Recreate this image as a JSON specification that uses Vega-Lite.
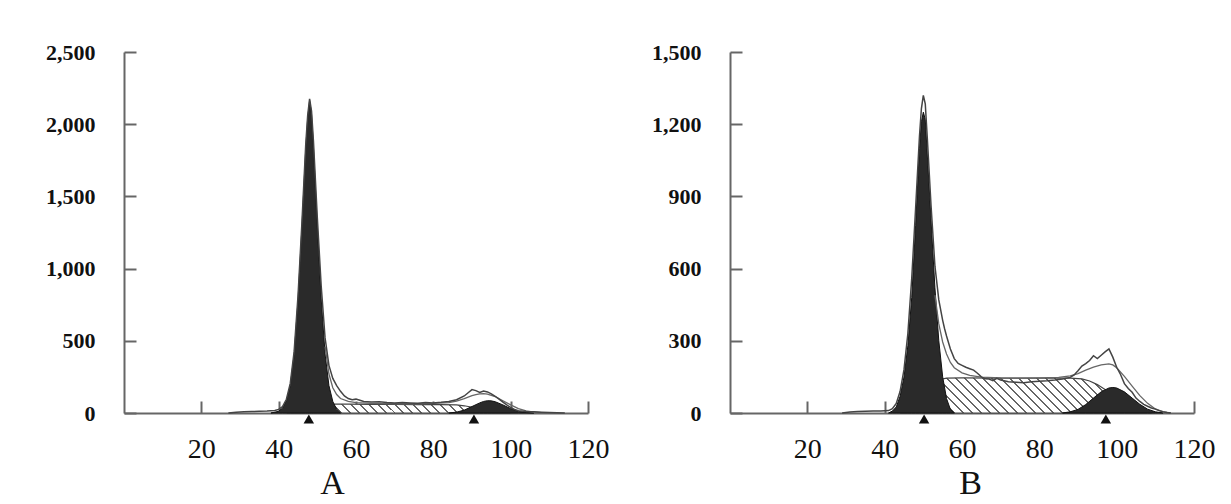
{
 "$schema": "https://vega.github.io/schema/vega-lite/v6.json",
 "background": "white",
 "padding": {"left": 45, "top": 41, "right": 10, "bottom": 0},
 "bounds": "flush",
 "spacing": 142,
 "config": {
  "view": {"stroke": null},
  "axis": {"grid": false, "domainColor": "#666", "domainWidth": 2, "tickColor": "#666", "tickWidth": 2, "tickSize": -12, "labelFont": "Liberation Serif", "labelColor": "#111", "titleFont": "Liberation Serif", "titleColor": "#111"},
  "axisX": {"labelFontSize": 28, "labelBaseline": "alphabetic", "labelPadding": 56, "labelFlush": false, "titleFontSize": 34, "titleFontWeight": "normal", "titleBaseline": "alphabetic", "titleY": 80, "titleAlign": "center"},
  "axisY": {"labelFontSize": 22, "labelFontWeight": "bold", "labelPadding": 41}
 },
 "datasets": {
  "a_hist": [{"ch":27,"v":0},{"ch":29,"v":6},{"ch":31,"v":9},{"ch":33,"v":10},{"ch":35,"v":12},{"ch":37,"v":14},{"ch":39,"v":18},{"ch":40,"v":25},{"ch":41,"v":45},{"ch":42,"v":95},{"ch":43,"v":205},{"ch":44,"v":425},{"ch":45,"v":810},{"ch":46,"v":1310},{"ch":47,"v":1860},{"ch":47.5,"v":2060},{"ch":48,"v":2175},{"ch":48.5,"v":2090},{"ch":49,"v":1880},{"ch":50,"v":1350},{"ch":51,"v":880},{"ch":52,"v":520},{"ch":53,"v":330},{"ch":54,"v":240},{"ch":55,"v":190},{"ch":56,"v":150},{"ch":57,"v":118},{"ch":58,"v":100},{"ch":59,"v":92},{"ch":60,"v":96},{"ch":61,"v":88},{"ch":62,"v":80},{"ch":64,"v":76},{"ch":66,"v":78},{"ch":68,"v":72},{"ch":70,"v":70},{"ch":72,"v":73},{"ch":74,"v":70},{"ch":76,"v":68},{"ch":78,"v":72},{"ch":80,"v":70},{"ch":82,"v":74},{"ch":84,"v":80},{"ch":86,"v":92},{"ch":88,"v":118},{"ch":89,"v":140},{"ch":90,"v":162},{"ch":91,"v":155},{"ch":92,"v":142},{"ch":93,"v":152},{"ch":94,"v":146},{"ch":95,"v":132},{"ch":96,"v":116},{"ch":97,"v":96},{"ch":98,"v":76},{"ch":99,"v":56},{"ch":100,"v":38},{"ch":101,"v":25},{"ch":102,"v":16},{"ch":104,"v":10},{"ch":106,"v":8},{"ch":108,"v":6},{"ch":110,"v":4},{"ch":112,"v":2},{"ch":114,"v":0}],
  "a_g1": [{"ch":38,"v":0},{"ch":40,"v":12},{"ch":41,"v":35},{"ch":42,"v":85},{"ch":43,"v":190},{"ch":44,"v":405},{"ch":45,"v":780},{"ch":46,"v":1280},{"ch":47,"v":1830},{"ch":47.5,"v":2040},{"ch":48,"v":2165},{"ch":48.5,"v":2070},{"ch":49,"v":1840},{"ch":50,"v":1290},{"ch":51,"v":790},{"ch":52,"v":410},{"ch":53,"v":190},{"ch":54,"v":80},{"ch":55,"v":25},{"ch":56,"v":0}],
  "a_s": [{"ch":42,"v":0},{"ch":44,"v":12},{"ch":46,"v":28},{"ch":48,"v":42},{"ch":50,"v":54},{"ch":52,"v":60},{"ch":54,"v":62},{"ch":58,"v":61},{"ch":64,"v":60},{"ch":70,"v":59},{"ch":76,"v":58},{"ch":82,"v":58},{"ch":86,"v":56},{"ch":88,"v":50},{"ch":90,"v":40},{"ch":92,"v":28},{"ch":94,"v":17},{"ch":96,"v":8},{"ch":98,"v":3},{"ch":100,"v":0}],
  "a_g2": [{"ch":84,"v":0},{"ch":86,"v":6},{"ch":88,"v":20},{"ch":90,"v":45},{"ch":92,"v":70},{"ch":93,"v":80},{"ch":94,"v":85},{"ch":95,"v":84},{"ch":96,"v":78},{"ch":98,"v":56},{"ch":100,"v":30},{"ch":102,"v":12},{"ch":104,"v":3},{"ch":106,"v":0}],
  "a_fit": [{"ch":52,"v":460},{"ch":53,"v":270},{"ch":54,"v":175},{"ch":55,"v":128},{"ch":56,"v":100},{"ch":58,"v":80},{"ch":60,"v":72},{"ch":64,"v":66},{"ch":70,"v":64},{"ch":76,"v":64},{"ch":80,"v":66},{"ch":84,"v":72},{"ch":86,"v":82},{"ch":88,"v":100},{"ch":90,"v":120},{"ch":91,"v":128},{"ch":92,"v":133},{"ch":93,"v":134},{"ch":94,"v":131},{"ch":96,"v":113},{"ch":98,"v":85},{"ch":100,"v":56},{"ch":102,"v":30},{"ch":104,"v":14},{"ch":106,"v":6},{"ch":108,"v":2},{"ch":110,"v":0}],
  "a_mark": [{"ch":47.8,"v":0},{"ch":90.5,"v":0}],
  "b_hist": [{"ch":29,"v":0},{"ch":31,"v":4},{"ch":33,"v":6},{"ch":35,"v":7},{"ch":37,"v":8},{"ch":39,"v":8},{"ch":41,"v":10},{"ch":42,"v":18},{"ch":43,"v":40},{"ch":44,"v":90},{"ch":45,"v":180},{"ch":46,"v":330},{"ch":47,"v":560},{"ch":48,"v":850},{"ch":49,"v":1150},{"ch":49.5,"v":1265},{"ch":50,"v":1320},{"ch":50.5,"v":1285},{"ch":51,"v":1150},{"ch":52,"v":860},{"ch":53,"v":610},{"ch":54,"v":470},{"ch":55,"v":385},{"ch":55.5,"v":350},{"ch":56,"v":320},{"ch":57,"v":266},{"ch":58,"v":226},{"ch":59,"v":206},{"ch":60,"v":198},{"ch":61,"v":190},{"ch":62,"v":184},{"ch":63,"v":178},{"ch":64,"v":165},{"ch":65,"v":150},{"ch":66,"v":142},{"ch":67,"v":141},{"ch":68,"v":134},{"ch":69,"v":144},{"ch":70,"v":137},{"ch":72,"v":130},{"ch":74,"v":128},{"ch":76,"v":126},{"ch":78,"v":130},{"ch":80,"v":132},{"ch":82,"v":134},{"ch":84,"v":137},{"ch":86,"v":141},{"ch":88,"v":148},{"ch":89,"v":158},{"ch":90,"v":176},{"ch":91,"v":195},{"ch":92,"v":205},{"ch":93,"v":218},{"ch":94,"v":238},{"ch":95,"v":226},{"ch":96,"v":240},{"ch":97,"v":254},{"ch":98,"v":266},{"ch":99,"v":232},{"ch":100,"v":190},{"ch":101,"v":160},{"ch":102,"v":122},{"ch":103,"v":102},{"ch":104,"v":86},{"ch":105,"v":62},{"ch":106,"v":48},{"ch":107,"v":36},{"ch":108,"v":28},{"ch":109,"v":21},{"ch":110,"v":16},{"ch":111,"v":10},{"ch":112,"v":5},{"ch":113,"v":2},{"ch":114,"v":0}],
  "b_g1": [{"ch":41,"v":0},{"ch":42,"v":8},{"ch":43,"v":25},{"ch":44,"v":70},{"ch":45,"v":150},{"ch":46,"v":280},{"ch":47,"v":480},{"ch":48,"v":780},{"ch":49,"v":1100},{"ch":49.5,"v":1210},{"ch":50,"v":1250},{"ch":50.5,"v":1220},{"ch":51,"v":1080},{"ch":52,"v":800},{"ch":53,"v":520},{"ch":54,"v":300},{"ch":55,"v":150},{"ch":56,"v":60},{"ch":57,"v":15},{"ch":58,"v":0}],
  "b_s": [{"ch":44,"v":0},{"ch":46,"v":10},{"ch":48,"v":35},{"ch":50,"v":75},{"ch":52,"v":115},{"ch":54,"v":138},{"ch":56,"v":145},{"ch":60,"v":146},{"ch":70,"v":145},{"ch":80,"v":145},{"ch":88,"v":145},{"ch":91,"v":142},{"ch":93,"v":133},{"ch":95,"v":118},{"ch":97,"v":98},{"ch":99,"v":75},{"ch":101,"v":50},{"ch":103,"v":28},{"ch":105,"v":12},{"ch":107,"v":3},{"ch":109,"v":0}],
  "b_g2": [{"ch":86,"v":0},{"ch":88,"v":5},{"ch":90,"v":15},{"ch":92,"v":35},{"ch":94,"v":62},{"ch":96,"v":88},{"ch":98,"v":104},{"ch":99,"v":106},{"ch":100,"v":104},{"ch":102,"v":88},{"ch":104,"v":62},{"ch":106,"v":36},{"ch":108,"v":16},{"ch":110,"v":5},{"ch":112,"v":0}],
  "b_fit": [{"ch":53,"v":490},{"ch":54,"v":370},{"ch":55,"v":295},{"ch":56,"v":245},{"ch":57,"v":210},{"ch":58,"v":188},{"ch":60,"v":167},{"ch":62,"v":156},{"ch":65,"v":149},{"ch":70,"v":146},{"ch":75,"v":145},{"ch":80,"v":146},{"ch":85,"v":148},{"ch":88,"v":154},{"ch":90,"v":164},{"ch":92,"v":178},{"ch":94,"v":191},{"ch":96,"v":200},{"ch":98,"v":204},{"ch":99,"v":200},{"ch":100,"v":188},{"ch":102,"v":152},{"ch":104,"v":112},{"ch":106,"v":72},{"ch":108,"v":40},{"ch":110,"v":17},{"ch":112,"v":5},{"ch":114,"v":0}],
  "b_mark": [{"ch":50.2,"v":0},{"ch":97.2,"v":0}]
 },
 "hconcat": [
  {
   "width": 464, "height": 361,
   "encoding": {
    "x": {"field": "ch", "type": "quantitative", "scale": {"domain": [0, 120], "nice": false, "zero": false}, "axis": {"values": [20, 40, 60, 80, 100, 120], "title": "A", "titleX": 208}},
    "y": {"field": "v", "type": "quantitative", "scale": {"domain": [0, 2500], "nice": false}, "axis": {"values": [0, 500, 1000, 1500, 2000, 2500], "format": ",d", "title": null}}
   },
   "layer": [
    {"data": {"name": "a_s"}, "mark": {"type": "area", "stroke": "#444", "strokeWidth": 1.2, "fill": {"gradient": "linear", "x1": 0, "y1": 1, "x2": 1.038, "y2": 0.9585, "stops": [
      {"offset":0,"color":"#666"},{"offset":0.0085,"color":"#666"},{"offset":0.0085,"color":"#fff"},{"offset":0.0385,"color":"#fff"},
      {"offset":0.0385,"color":"#666"},{"offset":0.047,"color":"#666"},{"offset":0.047,"color":"#fff"},{"offset":0.0769,"color":"#fff"},
      {"offset":0.0769,"color":"#666"},{"offset":0.0854,"color":"#666"},{"offset":0.0854,"color":"#fff"},{"offset":0.1154,"color":"#fff"},
      {"offset":0.1154,"color":"#666"},{"offset":0.1239,"color":"#666"},{"offset":0.1239,"color":"#fff"},{"offset":0.1538,"color":"#fff"},
      {"offset":0.1538,"color":"#666"},{"offset":0.1623,"color":"#666"},{"offset":0.1623,"color":"#fff"},{"offset":0.1923,"color":"#fff"},
      {"offset":0.1923,"color":"#666"},{"offset":0.2008,"color":"#666"},{"offset":0.2008,"color":"#fff"},{"offset":0.2308,"color":"#fff"},
      {"offset":0.2308,"color":"#666"},{"offset":0.2393,"color":"#666"},{"offset":0.2393,"color":"#fff"},{"offset":0.2692,"color":"#fff"},
      {"offset":0.2692,"color":"#666"},{"offset":0.2777,"color":"#666"},{"offset":0.2777,"color":"#fff"},{"offset":0.3077,"color":"#fff"},
      {"offset":0.3077,"color":"#666"},{"offset":0.3162,"color":"#666"},{"offset":0.3162,"color":"#fff"},{"offset":0.3462,"color":"#fff"},
      {"offset":0.3462,"color":"#666"},{"offset":0.3547,"color":"#666"},{"offset":0.3547,"color":"#fff"},{"offset":0.3846,"color":"#fff"},
      {"offset":0.3846,"color":"#666"},{"offset":0.3931,"color":"#666"},{"offset":0.3931,"color":"#fff"},{"offset":0.4231,"color":"#fff"},
      {"offset":0.4231,"color":"#666"},{"offset":0.4316,"color":"#666"},{"offset":0.4316,"color":"#fff"},{"offset":0.4615,"color":"#fff"},
      {"offset":0.4615,"color":"#666"},{"offset":0.47,"color":"#666"},{"offset":0.47,"color":"#fff"},{"offset":0.5,"color":"#fff"},
      {"offset":0.5,"color":"#666"},{"offset":0.5085,"color":"#666"},{"offset":0.5085,"color":"#fff"},{"offset":0.5385,"color":"#fff"},
      {"offset":0.5385,"color":"#666"},{"offset":0.547,"color":"#666"},{"offset":0.547,"color":"#fff"},{"offset":0.5769,"color":"#fff"},
      {"offset":0.5769,"color":"#666"},{"offset":0.5854,"color":"#666"},{"offset":0.5854,"color":"#fff"},{"offset":0.6154,"color":"#fff"},
      {"offset":0.6154,"color":"#666"},{"offset":0.6239,"color":"#666"},{"offset":0.6239,"color":"#fff"},{"offset":0.6538,"color":"#fff"},
      {"offset":0.6538,"color":"#666"},{"offset":0.6623,"color":"#666"},{"offset":0.6623,"color":"#fff"},{"offset":0.6923,"color":"#fff"},
      {"offset":0.6923,"color":"#666"},{"offset":0.7008,"color":"#666"},{"offset":0.7008,"color":"#fff"},{"offset":0.7308,"color":"#fff"},
      {"offset":0.7308,"color":"#666"},{"offset":0.7393,"color":"#666"},{"offset":0.7393,"color":"#fff"},{"offset":0.7692,"color":"#fff"},
      {"offset":0.7692,"color":"#666"},{"offset":0.7777,"color":"#666"},{"offset":0.7777,"color":"#fff"},{"offset":0.8077,"color":"#fff"},
      {"offset":0.8077,"color":"#666"},{"offset":0.8162,"color":"#666"},{"offset":0.8162,"color":"#fff"},{"offset":0.8462,"color":"#fff"},
      {"offset":0.8462,"color":"#666"},{"offset":0.8547,"color":"#666"},{"offset":0.8547,"color":"#fff"},{"offset":0.8846,"color":"#fff"},
      {"offset":0.8846,"color":"#666"},{"offset":0.8931,"color":"#666"},{"offset":0.8931,"color":"#fff"},{"offset":0.9231,"color":"#fff"},
      {"offset":0.9231,"color":"#666"},{"offset":0.9316,"color":"#666"},{"offset":0.9316,"color":"#fff"},{"offset":0.9615,"color":"#fff"},
      {"offset":0.9615,"color":"#666"},{"offset":0.97,"color":"#666"},{"offset":0.97,"color":"#fff"},{"offset":1,"color":"#fff"}
     ]}}},
    {"data": {"name": "a_g1"}, "mark": {"type": "area", "fill": "#2a2a2a", "stroke": "#111", "strokeWidth": 1}},
    {"data": {"name": "a_g2"}, "mark": {"type": "area", "fill": "#2a2a2a", "stroke": "#111", "strokeWidth": 1}},
    {"data": {"name": "a_fit"}, "mark": {"type": "line", "color": "#666", "strokeWidth": 1.3}},
    {"data": {"name": "a_hist"}, "mark": {"type": "line", "color": "#444", "strokeWidth": 1.5}},
    {"data": {"name": "a_mark"}, "mark": {"type": "point", "shape": "triangle-up", "filled": true, "color": "#111", "opacity": 1, "size": 110}, "encoding": {"yOffset": {"value": 6}}}
   ]
  },
  {
   "width": 464, "height": 361,
   "encoding": {
    "x": {"field": "ch", "type": "quantitative", "scale": {"domain": [0, 120], "nice": false, "zero": false}, "axis": {"values": [20, 40, 60, 80, 100, 120], "title": "B", "titleX": 240}},
    "y": {"field": "v", "type": "quantitative", "scale": {"domain": [0, 1500], "nice": false}, "axis": {"values": [0, 300, 600, 900, 1200, 1500], "format": ",d", "title": null}}
   },
   "layer": [
    {"data": {"name": "b_s"}, "mark": {"type": "area", "stroke": "#444", "strokeWidth": 1.2, "fill": {"gradient": "linear", "x1": 0, "y1": 1, "x2": 1.118, "y2": 0.8435, "stops": [
      {"offset":0,"color":"#666"},{"offset":0.007,"color":"#666"},{"offset":0.007,"color":"#fff"},{"offset":0.03125,"color":"#fff"},
      {"offset":0.03125,"color":"#666"},{"offset":0.03825,"color":"#666"},{"offset":0.03825,"color":"#fff"},{"offset":0.0625,"color":"#fff"},
      {"offset":0.0625,"color":"#666"},{"offset":0.0695,"color":"#666"},{"offset":0.0695,"color":"#fff"},{"offset":0.09375,"color":"#fff"},
      {"offset":0.09375,"color":"#666"},{"offset":0.10075,"color":"#666"},{"offset":0.10075,"color":"#fff"},{"offset":0.125,"color":"#fff"},
      {"offset":0.125,"color":"#666"},{"offset":0.132,"color":"#666"},{"offset":0.132,"color":"#fff"},{"offset":0.15625,"color":"#fff"},
      {"offset":0.15625,"color":"#666"},{"offset":0.16325,"color":"#666"},{"offset":0.16325,"color":"#fff"},{"offset":0.1875,"color":"#fff"},
      {"offset":0.1875,"color":"#666"},{"offset":0.1945,"color":"#666"},{"offset":0.1945,"color":"#fff"},{"offset":0.21875,"color":"#fff"},
      {"offset":0.21875,"color":"#666"},{"offset":0.22575,"color":"#666"},{"offset":0.22575,"color":"#fff"},{"offset":0.25,"color":"#fff"},
      {"offset":0.25,"color":"#666"},{"offset":0.257,"color":"#666"},{"offset":0.257,"color":"#fff"},{"offset":0.28125,"color":"#fff"},
      {"offset":0.28125,"color":"#666"},{"offset":0.28825,"color":"#666"},{"offset":0.28825,"color":"#fff"},{"offset":0.3125,"color":"#fff"},
      {"offset":0.3125,"color":"#666"},{"offset":0.3195,"color":"#666"},{"offset":0.3195,"color":"#fff"},{"offset":0.34375,"color":"#fff"},
      {"offset":0.34375,"color":"#666"},{"offset":0.35075,"color":"#666"},{"offset":0.35075,"color":"#fff"},{"offset":0.375,"color":"#fff"},
      {"offset":0.375,"color":"#666"},{"offset":0.382,"color":"#666"},{"offset":0.382,"color":"#fff"},{"offset":0.40625,"color":"#fff"},
      {"offset":0.40625,"color":"#666"},{"offset":0.41325,"color":"#666"},{"offset":0.41325,"color":"#fff"},{"offset":0.4375,"color":"#fff"},
      {"offset":0.4375,"color":"#666"},{"offset":0.4445,"color":"#666"},{"offset":0.4445,"color":"#fff"},{"offset":0.46875,"color":"#fff"},
      {"offset":0.46875,"color":"#666"},{"offset":0.47575,"color":"#666"},{"offset":0.47575,"color":"#fff"},{"offset":0.5,"color":"#fff"},
      {"offset":0.5,"color":"#666"},{"offset":0.507,"color":"#666"},{"offset":0.507,"color":"#fff"},{"offset":0.53125,"color":"#fff"},
      {"offset":0.53125,"color":"#666"},{"offset":0.53825,"color":"#666"},{"offset":0.53825,"color":"#fff"},{"offset":0.5625,"color":"#fff"},
      {"offset":0.5625,"color":"#666"},{"offset":0.5695,"color":"#666"},{"offset":0.5695,"color":"#fff"},{"offset":0.59375,"color":"#fff"},
      {"offset":0.59375,"color":"#666"},{"offset":0.60075,"color":"#666"},{"offset":0.60075,"color":"#fff"},{"offset":0.625,"color":"#fff"},
      {"offset":0.625,"color":"#666"},{"offset":0.632,"color":"#666"},{"offset":0.632,"color":"#fff"},{"offset":0.65625,"color":"#fff"},
      {"offset":0.65625,"color":"#666"},{"offset":0.66325,"color":"#666"},{"offset":0.66325,"color":"#fff"},{"offset":0.6875,"color":"#fff"},
      {"offset":0.6875,"color":"#666"},{"offset":0.6945,"color":"#666"},{"offset":0.6945,"color":"#fff"},{"offset":0.71875,"color":"#fff"},
      {"offset":0.71875,"color":"#666"},{"offset":0.72575,"color":"#666"},{"offset":0.72575,"color":"#fff"},{"offset":0.75,"color":"#fff"},
      {"offset":0.75,"color":"#666"},{"offset":0.757,"color":"#666"},{"offset":0.757,"color":"#fff"},{"offset":0.78125,"color":"#fff"},
      {"offset":0.78125,"color":"#666"},{"offset":0.78825,"color":"#666"},{"offset":0.78825,"color":"#fff"},{"offset":0.8125,"color":"#fff"},
      {"offset":0.8125,"color":"#666"},{"offset":0.8195,"color":"#666"},{"offset":0.8195,"color":"#fff"},{"offset":0.84375,"color":"#fff"},
      {"offset":0.84375,"color":"#666"},{"offset":0.85075,"color":"#666"},{"offset":0.85075,"color":"#fff"},{"offset":0.875,"color":"#fff"},
      {"offset":0.875,"color":"#666"},{"offset":0.882,"color":"#666"},{"offset":0.882,"color":"#fff"},{"offset":0.90625,"color":"#fff"},
      {"offset":0.90625,"color":"#666"},{"offset":0.91325,"color":"#666"},{"offset":0.91325,"color":"#fff"},{"offset":0.9375,"color":"#fff"},
      {"offset":0.9375,"color":"#666"},{"offset":0.9445,"color":"#666"},{"offset":0.9445,"color":"#fff"},{"offset":0.96875,"color":"#fff"},
      {"offset":0.96875,"color":"#666"},{"offset":0.97575,"color":"#666"},{"offset":0.97575,"color":"#fff"},{"offset":1,"color":"#fff"}
     ]}}},
    {"data": {"name": "b_g1"}, "mark": {"type": "area", "fill": "#2a2a2a", "stroke": "#111", "strokeWidth": 1}},
    {"data": {"name": "b_g2"}, "mark": {"type": "area", "fill": "#2a2a2a", "stroke": "#111", "strokeWidth": 1}},
    {"data": {"name": "b_fit"}, "mark": {"type": "line", "color": "#666", "strokeWidth": 1.3}},
    {"data": {"name": "b_hist"}, "mark": {"type": "line", "color": "#444", "strokeWidth": 1.5}},
    {"data": {"name": "b_mark"}, "mark": {"type": "point", "shape": "triangle-up", "filled": true, "color": "#111", "opacity": 1, "size": 110}, "encoding": {"yOffset": {"value": 6}}}
   ]
  }
 ]
}
